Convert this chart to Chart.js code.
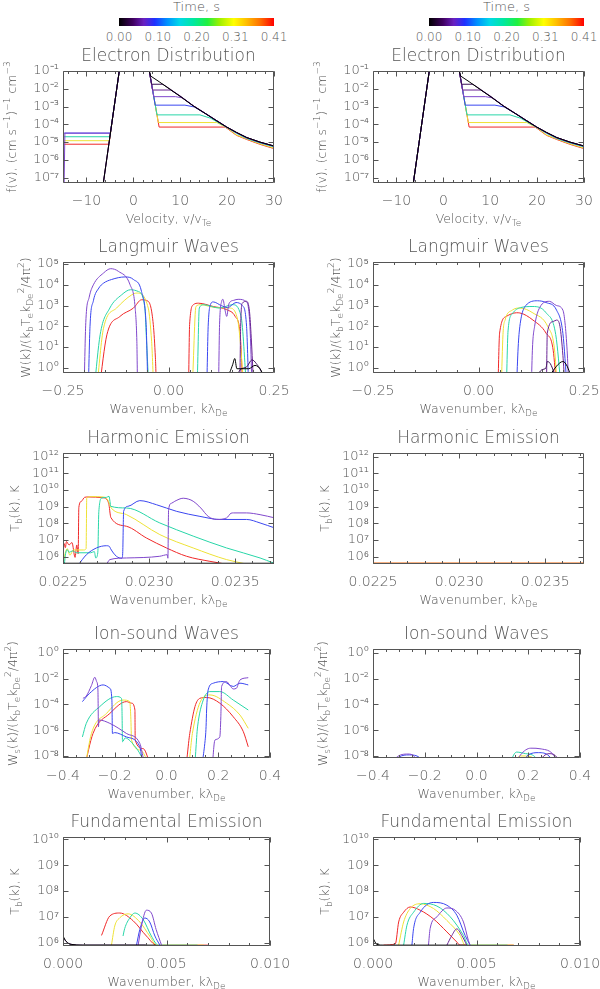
<!DOCTYPE html>
<html>
<head>
<meta charset="utf-8">
<title>Beam evolution</title>
<script src="https://cdn.jsdelivr.net/npm/chart.js@4.4.1/dist/chart.umd.min.js"></script>
<style>
  html, body { margin: 0; padding: 0; background: #fff; }
  #page { position: relative; width: 600px; height: 989px; overflow: hidden;
          font-family: "DejaVu Sans", sans-serif; font-weight: 200; color: #555; }
  #page canvas { position: absolute; }
  .cbar { position: absolute; top: 18px; width: 155px; height: 8px;
          background: linear-gradient(to right, #000000 0%, #400060 9%, #6a20c0 16%, #2030ff 23%,
            #0090ff 31%, #00d8e8 39%, #00e8a0 48%, #20f040 57%, #a0f000 65%, #ffff00 74%,
            #ffc000 82%, #ff7000 91%, #ff0000 100%); }
  .cbar-title { position: absolute; top: 0; font-size: 13px; line-height: 14px;
                transform: translateX(-50%); white-space: nowrap; }
  .cbar-tick { position: absolute; top: 30px; font-size: 12px; line-height: 14px;
               transform: translateX(-50%); white-space: nowrap; }
</style>
</head>
<body>
<div id="page"></div>
<script>
const FONT = '"DejaVu Sans", sans-serif';
const WEIGHT = 200;
const INK = '#555';

// colour bar + one colour per time step (t0 ... t7)
const timeTicks = ['0.00', '0.10', '0.20', '0.31', '0.41'];
const lineColors = ['#000000', '#3c1058', '#6a2494', '#8048cc', '#3a46f0', '#28d6a8', '#eee236', '#f02828'];

// axis ticks
const edXTicks = [-10, 0, 10, 20, 30];
const edXLabels = ['\u221210', '0', '10', '20', '30'];
const edYTicks = [1e-7, 1e-6, 1e-5, 1e-4, 1e-3, 1e-2, 1e-1];
const lwXTicks = [-0.25, 0, 0.25];
const lwXLabels = ['\u22120.25', '0.00', '0.25'];
const lwYTicks = [1, 10, 100, 1e3, 1e4, 1e5];
const heXTicks = [0.0225, 0.0230, 0.0235];
const heXLabels = ['0.0225', '0.0230', '0.0235'];
const heYTicks = [1e6, 1e7, 1e8, 1e9, 1e10, 1e11, 1e12];
const isXTicks = [-0.4, -0.2, 0, 0.2, 0.4];
const isXLabels = ['\u22120.4', '\u22120.2', '0.0', '0.2', '0.4'];
const isYTicks = [1e-8, 1e-6, 1e-4, 1e-2, 1];
const feXTicks = [0, 0.005, 0.010];
const feXLabels = ['0.000', '0.005', '0.010'];
const feYTicks = [1e6, 1e7, 1e8, 1e9, 1e10];

// electron distribution: shared Maxwellian core, backward plateau (left run only), beam side per time
const edCore = [[-6.6, 2.1e-8], [-5.2, 8.3e-6], [-4.0, 1.4e-3], [-3.0, 0.1], [-2.4, 1.2], [0, 3], [2.8, 1.2], [3.4, 0.1]];
const edBack = [
  [], [], [],
  [[-14.8, 1e-8], [-14.6, 3.2e-5], [-4.9, 3.2e-5]],
  [[-15, 3.2e-5], [-4.9, 3.2e-5]],
  [[-15, 2.0e-5], [-5.0, 2.0e-5]],
  [[-15, 1.2e-5], [-5.1, 1.2e-5]],
  [[-15, 7.6e-6], [-5.2, 7.6e-6]]
];
const edBeam = [
  [[3.7, 5.2e-2], [5.5, 2.5e-2], [7.8, 9.3e-3], [10.2, 3.4e-3], [12.8, 1.07e-3], [15.5, 3.8e-4], [17.8, 1.55e-4], [19.9, 7.0e-5], [22, 3.5e-5], [24.2, 1.8e-5], [27, 1.0e-5], [30, 6.0e-6]],
  [[3.9, 1.8e-2], [6.3, 1.8e-2], [7.8, 9.8e-3], [10.2, 3.5e-3], [12.8, 1.1e-3], [15.5, 3.9e-4], [17.8, 1.6e-4], [19.9, 7.1e-5], [22, 3.5e-5], [24.2, 1.8e-5], [27, 1.0e-5], [30, 6.0e-6]],
  [[4.1, 8.5e-3], [8.0, 8.5e-3], [10.2, 3.6e-3], [12.8, 1.1e-3], [15.5, 3.9e-4], [17.8, 1.6e-4], [19.9, 7.1e-5], [22, 3.5e-5], [24.2, 1.8e-5], [27, 1.0e-5], [30, 6.0e-6]],
  [[4.36, 3.6e-3], [9.0, 3.6e-3], [10.4, 3.1e-3], [12.8, 1.1e-3], [15.5, 3.9e-4], [17.8, 1.6e-4], [19.9, 7.0e-5], [22, 3.4e-5], [24.2, 1.75e-5], [27, 9.8e-6], [30, 5.9e-6]],
  [[4.67, 1.2e-3], [11.0, 1.2e-3], [13.0, 9.5e-4], [15.5, 3.8e-4], [17.8, 1.55e-4], [19.9, 6.9e-5], [22, 3.3e-5], [24.2, 1.7e-5], [27, 9.5e-6], [30, 5.7e-6]],
  [[5.05, 3.4e-4], [14.2, 3.4e-4], [16.5, 2.2e-4], [18.5, 1.1e-4], [19.9, 6.8e-5], [22, 3.1e-5], [24.2, 1.6e-5], [27, 9.0e-6], [30, 5.4e-6]],
  [[5.33, 1.26e-4], [17.8, 1.26e-4], [19.9, 6.5e-5], [22, 2.5e-5], [24.2, 1.5e-5], [27, 8.0e-6], [30, 4.6e-6]],
  [[5.5, 7.0e-5], [19.6, 7.0e-5], [22, 2.4e-5], [24.2, 1.4e-5], [27, 7.5e-6], [30, 4.3e-6]]
];

// Langmuir waves W(k)
const lwLeft = [
  [[0.12, 0.1], [0.145, 0.6], [0.152, 1.4], [0.157, 2.8], [0.162, 0.9], [0.19, 0.9], [0.205, 1.3], [0.22, 0.7], [0.235, 0.1]],
  [[0.15, 0.1], [0.17, 0.8], [0.185, 1.1], [0.198, 2.4], [0.208, 1.6], [0.222, 0.5], [0.23, 0.1]],
  [[0.169, 0.1], [0.171, 100], [0.175, 1.3e3], [0.185, 1.6e3], [0.192, 500], [0.196, 30], [0.202, 0.1]],
  [[-0.2, 0.1], [-0.196, 150], [-0.188, 2.5e3], [-0.178, 1e4], [-0.154, 3.7e4], [-0.137, 6e4], [-0.119, 4.5e4], [-0.091, 1e4], [-0.079, 760], [-0.075, 19], [-0.073, 0.1],
   [0.118, 0.1], [0.121, 120], [0.126, 1.6e3], [0.129, 2.0e3], [0.134, 600], [0.138, 300], [0.143, 1.2e3], [0.155, 1.8e3], [0.165, 2e3], [0.185, 1.5e3], [0.193, 100], [0.198, 0.1]],
  [[-0.19, 0.1], [-0.186, 100], [-0.178, 1.7e3], [-0.165, 7e3], [-0.154, 1.2e4], [-0.135, 1.8e4], [-0.103, 2.4e4], [-0.083, 1.8e4], [-0.064, 4.8e3], [-0.053, 120], [-0.048, 0.1],
   [0.09, 0.1], [0.094, 100], [0.1, 1.2e3], [0.106, 1.5e3], [0.125, 1.0e3], [0.14, 800], [0.16, 1.4e3], [0.175, 1.0e3], [0.185, 100], [0.19, 0.1]],
  [[-0.176, 0.1], [-0.162, 39], [-0.139, 760], [-0.111, 3.3e3], [-0.09, 5.8e3], [-0.072, 4.8e3], [-0.056, 760], [-0.052, 19], [-0.045, 0.1],
   [0.067, 0.1], [0.073, 760], [0.083, 1.1e3], [0.12, 760], [0.152, 1.1e3], [0.172, 300], [0.185, 0.1]],
  [[-0.17, 0.1], [-0.154, 81], [-0.123, 760], [-0.087, 3.3e3], [-0.075, 4e3], [-0.048, 760], [-0.04, 19], [-0.034, 0.1],
   [0.055, 0.1], [0.065, 900], [0.076, 1.1e3], [0.113, 800], [0.145, 760], [0.164, 200], [0.179, 0.1]],
  [[-0.164, 0.1], [-0.146, 39], [-0.115, 300], [-0.083, 760], [-0.064, 1.9e3], [-0.048, 1.6e3], [-0.036, 120], [-0.031, 3], [-0.028, 0.1],
   [0.047, 0.1], [0.05, 120], [0.059, 1.1e3], [0.071, 1.3e3], [0.106, 900], [0.138, 630], [0.158, 300], [0.17, 39], [0.176, 0.1]]
];
const lwRight = [
  [[0.15, 0.1], [0.185, 1.2], [0.2, 2], [0.21, 1.2], [0.228, 0.1]],
  [[0.125, 0.1], [0.15, 0.8], [0.16, 1.0], [0.163, 2.0], [0.17, 1.6], [0.18, 0.5], [0.19, 0.1]],
  [[0.161, 0.1], [0.163, 47], [0.177, 170], [0.185, 200], [0.193, 100], [0.2, 4], [0.205, 0.1]],
  [[0.125, 0.1], [0.128, 10], [0.133, 100], [0.145, 800], [0.168, 1.6e3], [0.185, 1e3], [0.2, 600], [0.21, 7], [0.214, 0.1]],
  [[0.09, 0.1], [0.094, 10], [0.098, 100], [0.112, 1e3], [0.14, 1.7e3], [0.16, 1.4e3], [0.185, 600], [0.2, 45], [0.21, 0.1]],
  [[0.066, 0.1], [0.07, 60], [0.08, 400], [0.1, 800], [0.129, 900], [0.16, 450], [0.183, 40], [0.196, 0.1]],
  [[0.054, 0.1], [0.058, 40], [0.063, 200], [0.08, 600], [0.098, 760], [0.129, 440], [0.165, 90], [0.18, 8], [0.187, 0.1]],
  [[0.046, 0.1], [0.05, 47], [0.066, 300], [0.09, 450], [0.098, 440], [0.129, 200], [0.16, 47], [0.177, 7], [0.185, 0.1]]
];

// harmonic emission Tb(k)
const heLeft = [
  [[0.0225, 4e5], [0.02373, 4e5]],
  [],
  [],
  [[0.02275, 3.0e5], [0.022772, 6.6e5], [0.022869, 8.3e5], [0.023062, 1.05e6], [0.023105, 1.3e6], [0.023109, 8e5], [0.023113, 6.6e8], [0.02313, 1.6e9], [0.023149, 2.1e9], [0.023198, 3.2e9], [0.02323, 2.8e9], [0.023256, 2.1e9], [0.0233, 8.3e8], [0.023343, 2.6e8], [0.023392, 1.7e8], [0.02345, 2.1e8], [0.023475, 4.0e8], [0.023489, 4.2e8], [0.023566, 4.2e8], [0.023644, 3.3e8], [0.02373, 2.1e8]],
  [[0.022587, 3.0e5], [0.022636, 1.3e6], [0.022694, 3.3e6], [0.022752, 4.5e6], [0.02277, 4.0e6], [0.022776, 3.0e6], [0.02281, 1.05e6], [0.022843, 8e5], [0.022847, 2e6], [0.022852, 5.2e8], [0.022878, 1.05e9], [0.022946, 2.3e9], [0.023043, 1.3e9], [0.02316, 5.2e8], [0.023295, 2.6e8], [0.023411, 1.7e8], [0.023566, 1.7e8], [0.023644, 1.05e8], [0.02373, 5.2e7]],
  [[0.0225, 3.0e5], [0.022508, 4e5], [0.022515, 1.5e6], [0.022525, 2.6e6], [0.022535, 1.8e6], [0.022555, 2.2e6], [0.02258, 1.7e6], [0.02266, 1.7e6], [0.022682, 2.0e6], [0.02269, 8.3e5], [0.022702, 1.7e6], [0.022708, 5e8], [0.022725, 3.3e9], [0.022752, 3.6e9], [0.022767, 4.2e9], [0.022773, 2e9], [0.022777, 1.05e9], [0.022869, 8.3e8], [0.023062, 1.05e8], [0.023256, 1.7e7], [0.02345, 3.3e6], [0.023644, 8.3e5], [0.02372, 4.2e5]],
  [[0.0225, 3.0e5], [0.022512, 1.5e6], [0.022525, 3e6], [0.02254, 1.2e6], [0.02256, 2.5e6], [0.02262, 2.5e6], [0.022634, 3.0e6], [0.022638, 3.3e9], [0.022665, 4e9], [0.022733, 3.8e9], [0.02276, 2.5e9], [0.02278, 8.3e8], [0.022869, 3.3e8], [0.023062, 2.1e7], [0.023256, 3.3e6], [0.02345, 6.6e5], [0.02357, 3.5e5]],
  [[0.0225, 1.0e6], [0.022507, 6e6], [0.022514, 3.5e6], [0.02252, 8e6], [0.022535, 5e6], [0.022552, 7e6], [0.02257, 9e5], [0.02258, 5e6], [0.022588, 1.5e6], [0.022592, 9e8], [0.022607, 2.1e9], [0.022625, 3.6e9], [0.022645, 3.8e9], [0.022733, 3.4e9], [0.022765, 1.6e9], [0.022778, 2.2e8], [0.022869, 6.6e7], [0.022985, 1.3e7], [0.023101, 3.3e6], [0.023217, 1.05e6], [0.023353, 5.2e5], [0.02349, 3.0e5]]
];
const heRight = [
  [],
  [],
  [],
  [],
  [],
  [],
  [[0.0225, 4e5], [0.02373, 4e5]],
  [[0.0225, 4.1e5], [0.02373, 4.1e5]]
];

// ion-sound waves Ws(k)
const isLeft = [
  [], [], [],
  [[-0.323, 3e-4], [-0.31, 4.5e-4], [-0.29, 3e-3], [-0.277, 1.3e-2], [-0.27, 6e-3], [-0.265, 1.3e-3], [-0.263, 1.8e-6], [-0.261, 6.2e-6], [-0.219, 3.4e-6], [-0.155, 5.6e-7], [-0.103, 9.3e-8], [-0.077, 1e-9],
   [0.174, 1e-9], [0.187, 1.7e-7], [0.206, 3e-7], [0.21, 1.1e-5], [0.213, 2.5e-3], [0.232, 6e-3], [0.245, 3e-3], [0.258, 1.6e-3], [0.27, 1.8e-3], [0.284, 8e-3], [0.316, 1.2e-2]],
  [[-0.325, 1.66e-4], [-0.297, 7.4e-4], [-0.245, 3.3e-3], [-0.219, 1.8e-3], [-0.211, 2.2e-4], [-0.209, 5.6e-7], [-0.2, 6.5e-7], [-0.155, 3e-7], [-0.103, 5.1e-8], [-0.088, 1e-9],
   [0.129, 1e-9], [0.148, 9.3e-8], [0.153, 2e-6], [0.155, 3.7e-5], [0.161, 1.35e-3], [0.181, 4.5e-3], [0.219, 6e-3], [0.258, 2.5e-3], [0.284, 4.5e-3], [0.316, 3.3e-3]],
  [[-0.325, 3e-7], [-0.31, 3.4e-6], [-0.258, 6.8e-5], [-0.193, 4.1e-4], [-0.174, 3e-4], [-0.172, 3.7e-5], [-0.17, 1.26e-7], [-0.16, 2.5e-7], [-0.12, 5e-8], [-0.058, 1e-9],
   [0.106, 1e-9], [0.12, 1.8e-6], [0.142, 2.2e-4], [0.168, 1e-3], [0.206, 1e-3], [0.258, 2.2e-4], [0.316, 3.7e-5]],
  [[-0.316, 1e-9], [-0.29, 5.6e-7], [-0.232, 2e-5], [-0.168, 2.2e-4], [-0.142, 1.66e-4], [-0.138, 1.1e-5], [-0.135, 1.7e-7], [-0.1, 2.8e-8], [-0.052, 1e-9],
   [0.082, 1e-9], [0.1, 5.6e-7], [0.13, 1.5e-4], [0.168, 5.5e-4], [0.232, 1.26e-4], [0.284, 1.5e-5], [0.316, 1.4e-6]],
  [[-0.318, 1e-9], [-0.284, 5.6e-7], [-0.219, 2e-5], [-0.155, 1.66e-4], [-0.135, 1.26e-4], [-0.122, 3.7e-5], [-0.121, 1.7e-7], [-0.09, 3.7e-8], [-0.052, 1e-9],
   [0.071, 1e-9], [0.09, 5.6e-7], [0.11, 6.8e-5], [0.129, 3e-4], [0.155, 3.5e-4], [0.206, 1.26e-4], [0.258, 1.1e-5], [0.297, 7.6e-7], [0.316, 5.1e-8]]
];
const isRight = [
  [], [],
  [[0.22, 1e-9], [0.26, 1e-8], [0.28, 1.5e-8], [0.31, 8e-9], [0.33, 1e-9]],
  [[-0.34, 1e-9], [-0.31, 7.5e-9], [-0.265, 1.4e-8], [-0.24, 9e-9], [-0.215, 1e-9],
   [0.14, 1e-9], [0.17, 1.2e-8], [0.21, 4e-8], [0.25, 3.5e-8], [0.3, 1e-8], [0.32, 1e-9]],
  [[-0.33, 1e-9], [-0.3, 8e-9], [-0.26, 1.2e-8], [-0.22, 7.5e-9], [-0.2, 1e-9],
   [0.16, 1e-9], [0.2, 1.2e-8], [0.24, 1.8e-8], [0.28, 1e-8], [0.31, 1e-9]],
  [[0.12, 1e-9], [0.155, 2e-8], [0.19, 1.5e-8], [0.23, 7e-9], [0.24, 1e-9]],
  [[0.13, 1e-9], [0.17, 1.0e-8], [0.21, 9e-9], [0.24, 1e-9]],
  [[0.12, 1e-9], [0.16, 7.5e-9], [0.2, 1e-9]]
];

// fundamental emission Tb(k)
const feLeft = [
  [[0, 1.8e6], [0.00016, 1.1e6], [0.0004, 8.5e5], [0.00095, 8e5], [0.0045, 8e5]],
  [[0, 1.5e6], [0.0003, 9e5], [0.001, 8e5], [0.004, 8e5]],
  [],
  [[0.00363, 8e5], [0.00379, 4.4e6], [0.00403, 1.8e7], [0.00427, 1.4e7], [0.0045, 3.2e6], [0.00476, 8e5]],
  [[0.00355, 8e5], [0.00371, 3.2e6], [0.00395, 9e6], [0.00419, 6.3e6], [0.00444, 1.8e6], [0.00468, 8e5]],
  [[0.0029, 1.8e6], [0.00298, 3.5e6], [0.00323, 9.1e6], [0.00347, 1.4e7], [0.00387, 7.9e6], [0.00427, 1.8e6], [0.0046, 8e5], [0.0065, 8e5]],
  [[0.00234, 8e5], [0.0025, 4.4e6], [0.00274, 9.1e6], [0.00315, 1.3e7], [0.00371, 6.3e6], [0.00419, 1.8e6], [0.00452, 8e5], [0.0068, 8e5]],
  [[0.00186, 1.9e6], [0.00226, 1.07e7], [0.00274, 1.4e7], [0.00339, 7e6], [0.00403, 1.8e6], [0.00452, 8e5], [0.007, 8e5]]
];
const feRight = [
  [[0, 1.5e6], [0.00019, 8.5e5], [0.0005, 8e5], [0.0045, 8e5]],
  [],
  [[0.00357, 8e5], [0.00381, 1.9e6], [0.00405, 3.4e6], [0.00429, 1.9e6], [0.00453, 8e5]],
  [[0.00268, 8e5], [0.00276, 3.5e6], [0.00309, 1e7], [0.00357, 2.2e7], [0.00397, 1.8e7], [0.00437, 6.3e6], [0.00461, 1.2e6], [0.00469, 8e5]],
  [[0.00188, 8e5], [0.00196, 3.5e6], [0.00228, 1.5e7], [0.00292, 3.6e7], [0.00357, 2.8e7], [0.00405, 1.15e7], [0.00445, 1.9e6], [0.00469, 8e5]],
  [[0.00148, 8e5], [0.00164, 4.7e6], [0.00196, 1.5e7], [0.00244, 3.3e7], [0.00309, 2.6e7], [0.00373, 1e7], [0.00437, 1.9e6], [0.00461, 8e5], [0.0065, 8e5]],
  [[0.00124, 8e5], [0.00148, 6.3e6], [0.0018, 2.1e7], [0.00228, 3.2e7], [0.00292, 2.1e7], [0.00357, 7.2e6], [0.00421, 1.9e6], [0.00445, 8e5], [0.0068, 8e5]],
  [[0.0005, 8e5], [0.00108, 9e5], [0.00124, 6.3e6], [0.00148, 1.5e7], [0.0018, 2.4e7], [0.00228, 1.8e7], [0.00292, 8.3e6], [0.00357, 2.6e6], [0.00405, 1.05e6], [0.0042, 8e5], [0.0068, 8e5]]
];

// ---- layout (pixel geometry of the figure) ----
const rows = [
  { top: 71, h: 112, right: 274 },
  { top: 262, h: 111, right: 274 },
  { top: 453, h: 111, right: 274 },
  { top: 649, h: 109, right: 270 },
  { top: 837, h: 109, right: 270 }
];
const colLeft = [0, 310];
const TITLE_H = 35, XAXIS_H = 45, YAXIS_W = 63, CANVAS_W = 290;

const kinds = {
  ed: { title: 'Electron Distribution', xMin: -15, xMax: 30, xTicks: edXTicks, xLabels: edXLabels, xMinor: 2,
        yMin: 5e-8, yMax: 0.1, yTicks: edYTicks, xTitle: 'Velocity, v/v_{Te}',
        yTitle: 'f(v), (cm s^{\u22121})^{\u22121} cm^{\u22123}', yTitleX: 11, smooth: false },
  lw: { title: 'Langmuir Waves', xMin: -0.25, xMax: 0.25, xTicks: lwXTicks, xLabels: lwXLabels, xMinor: 0.05,
        yMin: 0.56, yMax: 1.26e5, yTicks: lwYTicks, xTitle: 'Wavenumber, k\u03bb_{De}',
        yTitle: 'W(k)/(k_{b}T_{e}k_{De}^{2}/4\u03c0^{2})', yTitleX: 25, smooth: true },
  he: { title: 'Harmonic Emission', xMin: 0.0225, xMax: 0.023725, xTicks: heXTicks, xLabels: heXLabels, xMinor: 0.0001,
        yMin: 3.6e5, yMax: 1.66e12, yTicks: heYTicks, xTitle: 'Wavenumber, k\u03bb_{De}',
        yTitle: 'T_{b}(k), K', yTitleX: 14, smooth: true },
  is: { title: 'Ion-sound Waves', xMin: -0.4, xMax: 0.4, xTicks: isXTicks, xLabels: isXLabels, xMinor: 0.05,
        yMin: 6.9e-9, yMax: 2.04, yTicks: isYTicks, xTitle: 'Wavenumber, k\u03bb_{De}',
        yTitle: 'W_{s}(k)/(k_{b}T_{e}k_{De}^{2}/4\u03c0^{2})', yTitleX: 12, smooth: true },
  fe: { title: 'Fundamental Emission', xMin: 0, xMax: 0.01, xTicks: feXTicks, xLabels: feXLabels, xMinor: 0.001,
        yMin: 7.4e5, yMax: 1.23e10, yTicks: feYTicks, xTitle: 'Wavenumber, k\u03bb_{De}',
        yTitle: 'T_{b}(k), K', yTitleX: 14, smooth: true }
};

function edCurve(i, withBack) {
  const back = withBack ? edBack[i] : [];
  const from = back.length ? back[back.length - 1][0] : -Infinity;
  return back.concat(edCore.filter(q => q[0] > from), edBeam[i]);
}

const panels = [
  { kind: 'ed', row: 0, col: 0, curves: edBeam.map((_, i) => edCurve(i, true)) },
  { kind: 'ed', row: 0, col: 1, curves: edBeam.map((_, i) => edCurve(i, false)) },
  { kind: 'lw', row: 1, col: 0, curves: lwLeft },
  { kind: 'lw', row: 1, col: 1, curves: lwRight },
  { kind: 'he', row: 2, col: 0, curves: heLeft },
  { kind: 'he', row: 2, col: 1, curves: heRight },
  { kind: 'is', row: 3, col: 0, curves: isLeft },
  { kind: 'is', row: 3, col: 1, curves: isRight },
  { kind: 'fe', row: 4, col: 0, curves: feLeft },
  { kind: 'fe', row: 4, col: 1, curves: feRight }
];

const SUP = { '0': '\u2070', '1': '\u00b9', '2': '\u00b2', '3': '\u00b3', '4': '\u2074', '5': '\u2075',
              '6': '\u2076', '7': '\u2077', '8': '\u2078', '9': '\u2079', '-': '\u207b' };
function powLabel(v) {
  const e = Math.round(Math.log10(v));
  return '10' + String(e).split('').map(c => SUP[c]).join('');
}

// text with _{sub} and ^{sup} parts
function parseRich(str) {
  const parts = [];
  const re = /([_^])\{([^}]*)\}/g;
  let last = 0, m;
  while ((m = re.exec(str))) {
    if (m.index > last) parts.push({ t: str.slice(last, m.index), k: '' });
    parts.push({ t: m[2], k: m[1] });
    last = re.lastIndex;
  }
  if (last < str.length) parts.push({ t: str.slice(last), k: '' });
  return parts;
}
function drawRich(ctx, str, cx, cy, rotate) {
  const parts = parseRich(str);
  const big = WEIGHT + ' 12.5px ' + FONT, small = WEIGHT + ' 9px ' + FONT;
  let w = 0;
  parts.forEach(p => { ctx.font = p.k ? small : big; p.w = ctx.measureText(p.t).width; w += p.w; });
  ctx.save();
  ctx.translate(cx, cy);
  if (rotate) ctx.rotate(-Math.PI / 2);
  ctx.fillStyle = INK;
  ctx.textBaseline = 'alphabetic';
  let x = -w / 2;
  parts.forEach(p => {
    ctx.font = p.k ? small : big;
    const dy = p.k === '_' ? 3 : (p.k === '^' ? -6 : 0);
    ctx.fillText(p.t, x, 4.5 + dy);
    x += p.w;
  });
  ctx.restore();
}

// IDL-like frame: box, inward ticks on all four sides, rich axis titles
const framePlugin = {
  id: 'frame',
  afterDatasetsDraw(chart, args, o) {
    const { ctx, chartArea: a } = chart;
    const xs = chart.scales.x, ys = chart.scales.y;
    const L = Math.round(a.left) + 0.5, R = Math.round(a.right) - 0.5;
    const T = Math.round(a.top) + 0.5, B = Math.round(a.bottom) - 0.5;
    ctx.save();
    ctx.strokeStyle = INK;
    ctx.lineWidth = 1;
    ctx.beginPath();
    ctx.rect(L, T, R - L, B - T);
    const xTick = (v, len) => {
      const px = Math.round(xs.getPixelForValue(v)) + 0.5;
      ctx.moveTo(px, B); ctx.lineTo(px, B - len);
      ctx.moveTo(px, T); ctx.lineTo(px, T + len);
    };
    for (let k = -300; k <= 300; k++) {
      const v = o.xTicks[0] + k * o.xMinor;
      if (v < xs.min - 1e-12 || v > xs.max + 1e-12) continue;
      xTick(v, 2.5);
    }
    o.xTicks.forEach(v => xTick(v, 5));
    o.yTicks.forEach(v => {
      const py = Math.round(ys.getPixelForValue(v)) + 0.5;
      ctx.moveTo(L, py); ctx.lineTo(L + 5, py);
      ctx.moveTo(R, py); ctx.lineTo(R - 5, py);
    });
    ctx.stroke();
    ctx.restore();
  },
  afterDraw(chart, args, o) {
    const { ctx, chartArea: a } = chart;
    drawRich(ctx, o.xTitle, (a.left + a.right) / 2, a.bottom + 35, false);
    drawRich(ctx, o.yTitle, o.yTitleX, (a.top + a.bottom) / 2, true);
  }
};

const page = document.getElementById('page');

// colour bars
colLeft.forEach(x0 => {
  const bar = document.createElement('div');
  bar.className = 'cbar';
  bar.style.left = (x0 + 119) + 'px';
  page.appendChild(bar);
  const t = document.createElement('div');
  t.className = 'cbar-title';
  t.style.left = (x0 + 196.5) + 'px';
  t.textContent = 'Time, s';
  page.appendChild(t);
  timeTicks.forEach((lab, i) => {
    const s = document.createElement('div');
    s.className = 'cbar-tick';
    s.style.left = (x0 + 119 + i * 155 / (timeTicks.length - 1)) + 'px';
    s.textContent = lab;
    page.appendChild(s);
  });
});

function addPanel(p) {
  const row = rows[p.row];
  const ax = kinds[p.kind];
  const cv = document.createElement('canvas');
  cv.width = CANVAS_W;
  cv.height = TITLE_H + row.h + XAXIS_H;
  cv.style.left = colLeft[p.col] + 'px';
  cv.style.top = (row.top - TITLE_H) + 'px';
  page.appendChild(cv);

  const datasets = [];
  p.curves.forEach((c, i) => {
    if (!c.length) return;
    datasets.push({
      data: c.map(q => ({ x: q[0], y: q[1] })),
      borderColor: lineColors[i],
      borderWidth: 1,
      pointRadius: 0,
      fill: false,
      tension: 0,
      cubicInterpolationMode: ax.smooth ? 'monotone' : 'default',
      order: i   // earliest time ends up on top
    });
  });

  return new Chart(cv, {
    type: 'line',
    data: { datasets: datasets },
    options: {
      responsive: false,
      animation: false,
      events: [],
      layout: { padding: { left: 0, right: CANVAS_W - row.right, top: 0, bottom: 0 } },
      scales: {
        x: {
          type: 'linear', bounds: 'data', min: ax.xMin, max: ax.xMax,
          grid: { display: false, drawTicks: false },
          border: { display: false },
          ticks: {
            padding: 10, color: INK, font: { family: FONT, size: 14, weight: WEIGHT },
            maxRotation: 0, autoSkip: false,
            callback: (v, i) => ax.xLabels[i]
          },
          afterBuildTicks: s => { s.ticks = ax.xTicks.map(v => ({ value: v })); },
          afterFit: s => { s.height = XAXIS_H; s.paddingLeft = 0; s.paddingRight = 0; }
        },
        y: {
          type: 'logarithmic', bounds: 'data', min: ax.yMin, max: ax.yMax,
          grid: { display: false, drawTicks: false },
          border: { display: false },
          ticks: {
            padding: 4, color: INK, font: { family: FONT, size: 13, weight: WEIGHT },
            autoSkip: false,
            callback: v => powLabel(v)
          },
          afterBuildTicks: s => { s.ticks = ax.yTicks.map(v => ({ value: v })); },
          afterFit: s => { s.width = YAXIS_W; s.paddingTop = 0; s.paddingBottom = 0; }
        }
      },
      plugins: {
        legend: { display: false },
        tooltip: { enabled: false },
        title: {
          display: true, text: ax.title, fullSize: false, color: INK,
          font: { family: FONT, size: 17, weight: WEIGHT },
          padding: { top: 10, bottom: 4.6 }
        },
        frame: {
          xTicks: ax.xTicks, xMinor: ax.xMinor, yTicks: ax.yTicks,
          xTitle: ax.xTitle, yTitle: ax.yTitle, yTitleX: ax.yTitleX
        }
      }
    },
    plugins: [framePlugin]
  });
}

panels.forEach(addPanel);
</script>
</body>
</html>
